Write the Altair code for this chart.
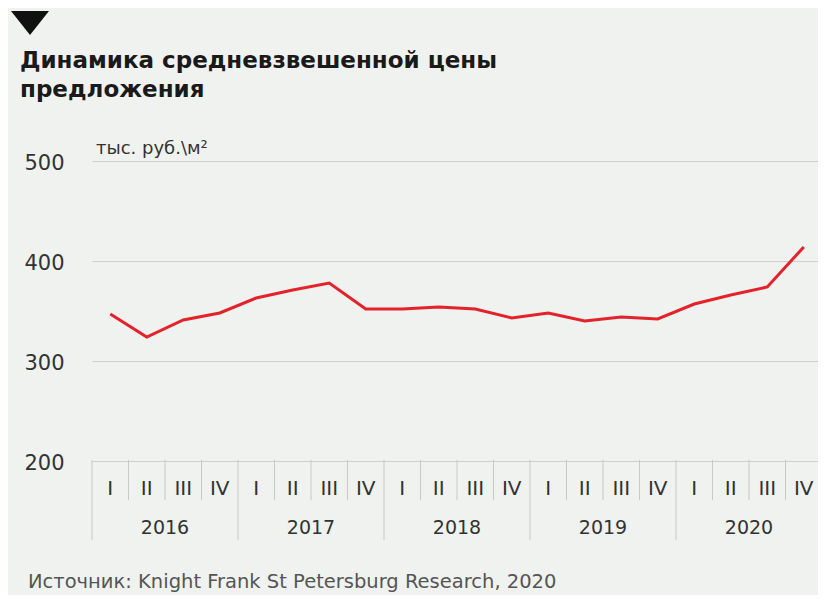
import altair as alt
import pandas as pd

years = ["2016", "2017", "2018", "2019", "2020"]
quarters = ["I", "II", "III", "IV"]
prices = [347, 324, 341, 348, 363, 371, 378, 352, 352, 354,
          352, 343, 348, 340, 344, 342, 357, 366, 374, 414]
y_ticks = [200, 300, 400, 500]
title_lines = ["Динамика средневзвешенной цены", "предложения"]
unit_label = "тыс. руб.\\м²"
source_text = "Источник: Knight Frank St Petersburg Research, 2020"

BG = "#eff2ee"
FONT = "DejaVu Sans"
TXT = "#333333"

rows = []
for i, yr in enumerate(years):
    for j, q in enumerate(quarters):
        k = i * 4 + j
        rows.append({"pos": k + 0.5, "edge": k, "q": q, "year": yr, "price": prices[k]})
df = pd.DataFrame(rows)
ydf = pd.DataFrame({"year": years, "mid": [i * 4 + 2 for i in range(len(years))]})
ydf_edges = pd.DataFrame({"edge": [i * 4 for i in range(len(years) + 1)]})

xscale = alt.Scale(domain=[0, 20], range=[0, 730])


def X(f):
    return alt.X(f, type="quantitative", scale=xscale, axis=None)


line = alt.Chart(df).mark_line(color="#e3222b", strokeWidth=3).encode(
    x=X("pos"),
    y=alt.Y("price:Q", scale=alt.Scale(domain=[200, 500]),
            axis=alt.Axis(values=y_ticks, grid=True, domain=False, ticks=False, tickSize=0,
                          labelAlign="left", labelPadding=68, labelFontSize=21,
                          labelFont=FONT, labelColor=TXT, labelBaseline="middle",
                          labelOffset=2, gridColor="#cdd0cc", gridWidth=1, title=None)),
)

qsep = alt.Chart(df[df["edge"] % 4 != 0]).mark_rule(color="#c6c9c5", strokeWidth=1).encode(
    x=X("edge"), y=alt.value(299), y2=alt.value(339))
ysep = alt.Chart(ydf_edges).mark_rule(color="#c6c9c5", strokeWidth=1).encode(
    x=X("edge"), y=alt.value(299), y2=alt.value(379))

qlab = alt.Chart(df).mark_text(font=FONT, fontSize=20, color=TXT, baseline="alphabetic",
                               align="center").encode(
    x=X("pos"), y=alt.value(334), text="q:N")
ylab = alt.Chart(ydf).mark_text(font=FONT, fontSize=19, color=TXT, baseline="alphabetic",
                                align="center").encode(
    x=X("mid"), y=alt.value(373), text="year:N")

one = alt.Data(values=[{"a": 1}])
title1 = alt.Chart(one).mark_text(text=title_lines[0], font=FONT, fontSize=23, fontWeight="bold",
                                  color="#1a1a1a", align="left", baseline="alphabetic").encode(
    x=alt.value(-72), y=alt.value(-93))
title2 = alt.Chart(one).mark_text(text=title_lines[1], font=FONT, fontSize=23, fontWeight="bold",
                                  color="#1a1a1a", align="left", baseline="alphabetic").encode(
    x=alt.value(-72), y=alt.value(-64))
unit = alt.Chart(one).mark_text(text=unit_label, font=FONT, fontSize=18, color=TXT,
                                align="left", baseline="alphabetic").encode(
    x=alt.value(4), y=alt.value(-7))
src = alt.Chart(one).mark_text(text=source_text, font=FONT, fontSize=19.5, color="#555555",
                               align="left", baseline="alphabetic").encode(
    x=alt.value(-64), y=alt.value(427))
tri = alt.Chart(one).mark_point(shape="M-1,-0.63L1,-0.63L0,0.63Z", filled=True, color="#111111",
                                opacity=1, size=1444, strokeWidth=0).encode(
    x=alt.value(-62), y=alt.value(-138))

chart = alt.layer(qsep, ysep, line, qlab, ylab, title1, title2, unit, src, tri).properties(
    width=726, height=300,
    autosize=alt.AutoSizeParams(type="none"),
    padding={"left": 84, "top": 153, "right": 0, "bottom": 134},
    background=BG,
).configure_view(stroke=None)

chart.save("out.html", embed_options={"renderer": "svg", "actions": False})
